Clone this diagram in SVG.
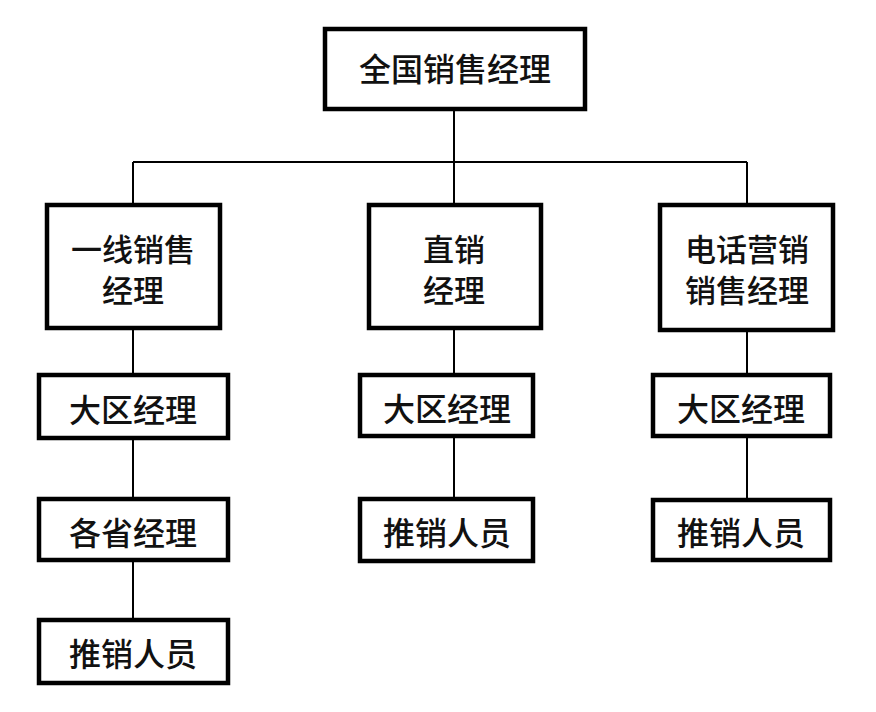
<svg xmlns="http://www.w3.org/2000/svg" width="876" height="712" viewBox="0 0 876 712">
<style>
.box{fill:#fff;stroke:#000;stroke-width:4.5}
.t{font-family:"Noto Sans CJK SC","Noto Sans",sans-serif;font-size:32px;font-weight:500;fill:#111;text-anchor:middle}
.t2{font-size:31px}
.c{stroke:#000;stroke-width:2;fill:none}
</style>
<rect width="876" height="712" fill="#fff"/>
<g id="connectors">
<line class="c" x1="454" y1="109" x2="454" y2="205"/>
<line class="c" x1="133" y1="162" x2="747" y2="162"/>
<line class="c" x1="133" y1="162" x2="133" y2="205"/>
<line class="c" x1="747" y1="162" x2="747" y2="205"/>
<line class="c" x1="133" y1="330" x2="133" y2="375"/>
<line class="c" x1="133" y1="440" x2="133" y2="499"/>
<line class="c" x1="133" y1="562" x2="133" y2="620"/>
<line class="c" x1="454" y1="330" x2="454" y2="375"/>
<line class="c" x1="454" y1="438" x2="454" y2="499"/>
<line class="c" x1="747" y1="332" x2="747" y2="375"/>
<line class="c" x1="747" y1="438" x2="747" y2="500"/>
</g>
<g id="n0"><rect class="box" x="325" y="29" width="260" height="80"/><text class="t" x="455" y="81">全国销售经理</text></g>
<g id="n1"><rect class="box" x="47" y="205" width="173" height="123"/><text class="t t2" x="133" y="261">一线销售</text><text class="t t2" x="133" y="302">经理</text></g>
<g id="n2"><rect class="box" x="369" y="205" width="172" height="123"/><text class="t t2" x="454" y="261">直销</text><text class="t t2" x="454" y="302">经理</text></g>
<g id="n3"><rect class="box" x="660" y="205" width="173" height="125"/><text class="t t2" x="747" y="261">电话营销</text><text class="t t2" x="747" y="302">销售经理</text></g>
<g id="n4"><rect class="box" x="39" y="375" width="189" height="63"/><text class="t" x="133" y="422">大区经理</text></g>
<g id="n5"><rect class="box" x="39" y="499" width="189" height="61"/><text class="t" x="133" y="545">各省经理</text></g>
<g id="n6"><rect class="box" x="39" y="620" width="189" height="63"/><text class="t" x="133" y="666">推销人员</text></g>
<g id="n7"><rect class="box" x="360" y="375" width="173" height="61"/><text class="t" x="447" y="421">大区经理</text></g>
<g id="n8"><rect class="box" x="360" y="499" width="173" height="62"/><text class="t" x="447" y="545">推销人员</text></g>
<g id="n9"><rect class="box" x="653" y="375" width="177" height="61"/><text class="t" x="741" y="421">大区经理</text></g>
<g id="n10"><rect class="box" x="653" y="500" width="177" height="60"/><text class="t" x="741" y="545">推销人员</text></g>
</svg>
